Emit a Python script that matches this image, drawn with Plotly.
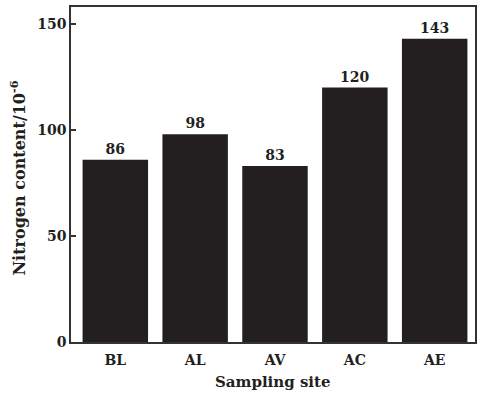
import plotly.graph_objects as go

# Nitrogen content at each sampling site
sites = ["BL", "AL", "AV", "AC", "AE"]
nitrogen = [86, 98, 83, 120, 143]
y_ticks = [0, 50, 100, 150]

ink = "#231f20"
serif = "DejaVu Serif, Liberation Serif, serif"
tick_font = dict(family=serif, size=14, color=ink, weight="bold")
title_font = dict(family=serif, size=15, color=ink, weight="bold")

fig = go.Figure(
    go.Bar(
        x=sites,
        y=nitrogen,
        marker=dict(color=ink, line=dict(width=0)),
        text=[str(v) for v in nitrogen],
        textposition="outside",
        textfont=tick_font,
        cliponaxis=False,
    )
)

fig.update_layout(
    width=478,
    height=396,
    margin=dict(l=71, r=1, t=7, b=54),
    paper_bgcolor="white",
    plot_bgcolor="white",
    bargap=0.18,
    showlegend=False,
    font=dict(family=serif, color=ink),
)

fig.update_xaxes(
    range=[-0.555, 4.505],
    showline=True,
    linecolor="#333",
    linewidth=1.5,
    mirror=True,
    ticks="",
    ticklabelstandoff=4,
    showgrid=False,
    tickfont=tick_font,
)

fig.update_yaxes(
    range=[0, 158],
    tickvals=y_ticks,
    showline=True,
    linecolor="#333",
    linewidth=1.5,
    mirror=True,
    ticks="inside",
    ticklen=5,
    tickwidth=1.5,
    tickcolor="#333",
    showgrid=False,
    zeroline=False,
    tickfont=tick_font,
)

fig.add_annotation(
    text="Sampling site",
    xref="paper", yref="paper",
    x=0.5, y=-0.12,
    yanchor="middle",
    showarrow=False,
    font=title_font,
)
fig.add_annotation(
    text="Nitrogen content/10<sup>-6</sup>",
    xref="paper", yref="paper",
    x=-0.132, y=0.49,
    xanchor="center", yanchor="middle",
    textangle=-90,
    showarrow=False,
    font=dict(family=serif, size=16, color=ink, weight="bold"),
)

fig.write_html("out.html")
